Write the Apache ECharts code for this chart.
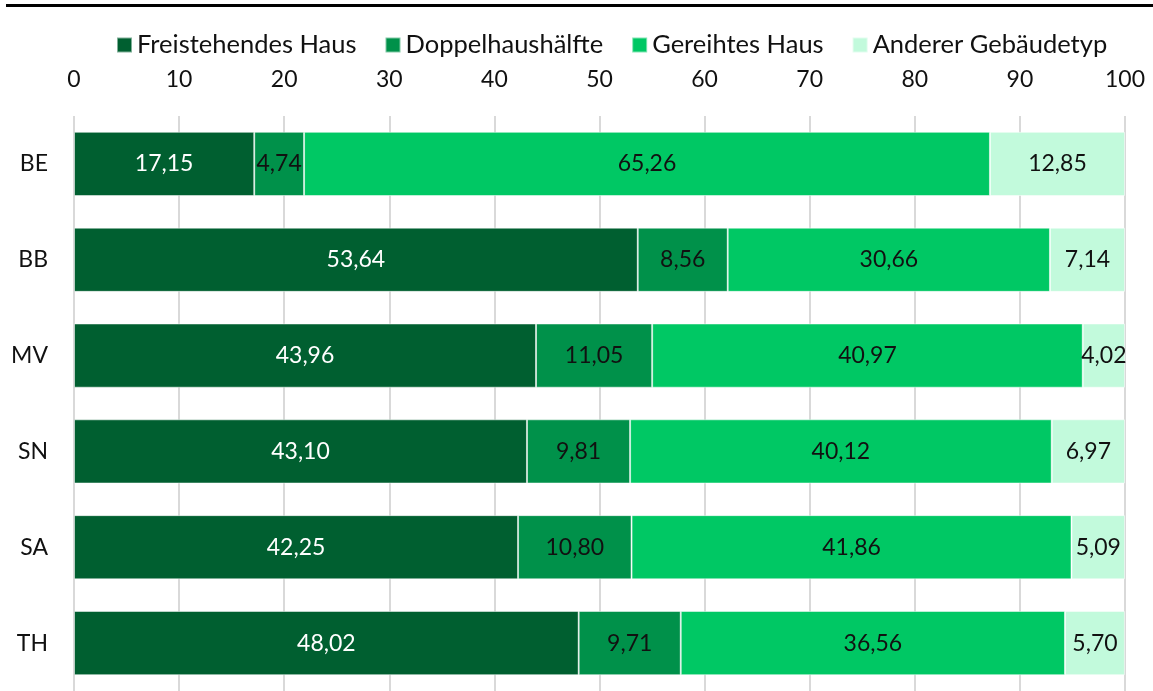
<!DOCTYPE html>
<html>
<head>
<meta charset="utf-8">
<script src="https://cdn.jsdelivr.net/npm/echarts@6/dist/echarts.min.js"></script>
<style>
  html, body { margin: 0; padding: 0; background: #fff; }
  #chart { width: 1153px; height: 691px; }
</style>
</head>
<body>
<div id="chart"></div>
<script>
// Shares of building types per federal state (percent)
const categories = ['BE', 'BB', 'MV', 'SN', 'SA', 'TH'];
const seriesNames = ['Freistehendes Haus', 'Doppelhaushälfte', 'Gereihtes Haus', 'Anderer Gebäudetyp'];
const freistehend = [17.15, 53.64, 43.96, 43.10, 42.25, 48.02];
const doppelhaus = [4.74, 8.56, 11.05, 9.81, 10.80, 9.71];
const gereiht = [65.26, 30.66, 40.97, 40.12, 41.86, 36.56];
const anderer = [12.85, 7.14, 4.02, 6.97, 5.09, 5.70];
const xTicks = [0, 10, 20, 30, 40, 50, 60, 70, 80, 90, 100];

const colors = ['#005F30', '#00914A', '#00C864', '#C2FADC'];
const labelColors = ['#ffffff', '#111111', '#111111', '#111111'];
const values = [freistehend, doppelhaus, gereiht, anderer];
const FONT = 'Lato, "Noto Sans", sans-serif';

const chart = echarts.init(document.getElementById('chart'), null, { renderer: 'canvas' });

chart.setOption({
  animation: false,
  textStyle: { fontFamily: FONT },
  color: colors,
  graphic: [{
    type: 'rect',
    shape: { x: 6, y: 4, width: 1147, height: 3 },
    style: { fill: '#000' }
  }],
  legend: {
    top: 27,
    left: 111,
    itemWidth: 15,
    itemHeight: 15,
    itemGap: 28,
    icon: 'rect',
    textStyle: { fontSize: 25.5, color: '#111', fontFamily: FONT },
    data: seriesNames
  },
  grid: { left: 74, right: 28, top: 116, bottom: -2, containLabel: false },
  xAxis: {
    type: 'value',
    position: 'top',
    min: 0, max: 100, interval: 10,
    axisLine: { show: false },
    axisTick: { show: false },
    axisLabel: {
      fontSize: 23, color: '#111', margin: 25,
      formatter: v => xTicks.includes(v) ? String(v) : ''
    },
    splitLine: { show: true, lineStyle: { color: '#d9d9d9', width: 2 } }
  },
  yAxis: {
    type: 'category',
    inverse: true,
    data: categories,
    axisLine: { show: false },
    axisTick: { show: false },
    axisLabel: { fontSize: 23, color: '#111', margin: 26 }
  },
  series: seriesNames.map((name, i) => ({
    name,
    type: 'bar',
    stack: 'total',
    barCategoryGap: '33%',
    data: values[i],
    itemStyle: { color: colors[i], borderColor: 'rgba(255,255,255,0.5)', borderWidth: 1 },
    label: {
      show: true,
      position: 'inside',
      color: labelColors[i],
      fontSize: 23,
      fontFamily: FONT,
      formatter: p => p.value.toFixed(2).replace('.', ',')
    }
  }))
});
</script>
</body>
</html>
